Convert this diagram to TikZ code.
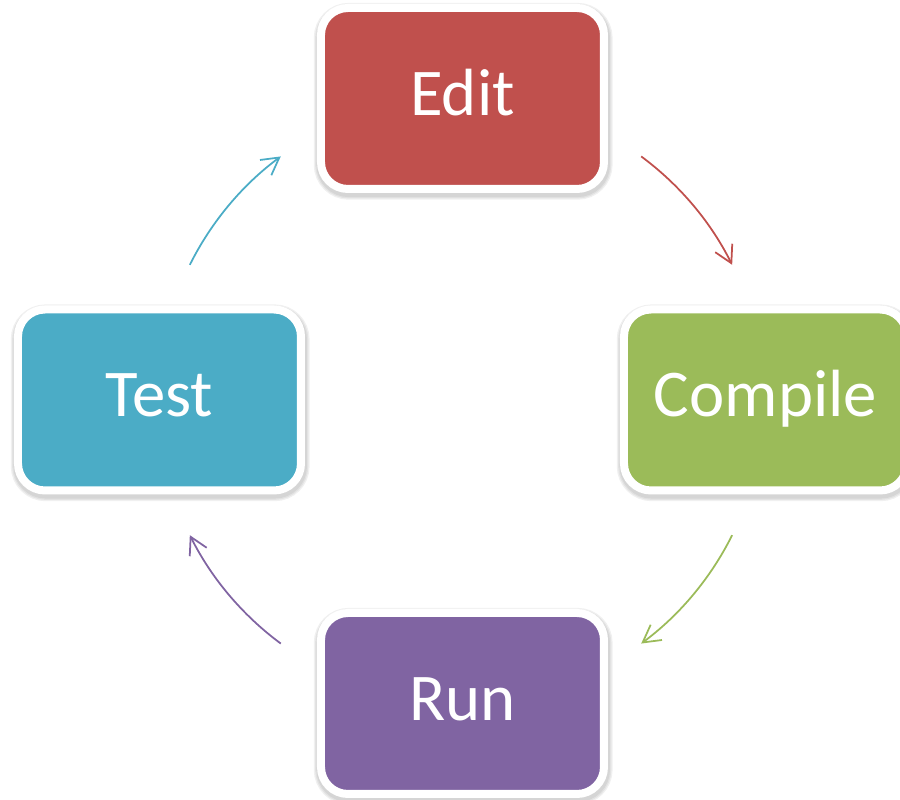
\documentclass[tikz,border=0pt]{standalone}
\usepackage{fontspec}
\setmainfont{Carlito}
\usetikzlibrary{arrows.meta,shadows}
\definecolor{cyEdit}{HTML}{C0504D}
\definecolor{cyComp}{HTML}{9BBB59}
\definecolor{cyRun}{HTML}{8064A2}
\definecolor{cyTest}{HTML}{4BACC6}

\begin{document}
\begin{tikzpicture}[>={Straight Barb[length=3.4mm,width=3.8mm]},
    every node/.style={font=\fontsize{38}{40}\selectfont,text=white},
    halo/.style={general shadow={draw=black,draw opacity=0.06,line width=#1,
      shadow xshift=0.4pt,shadow yshift=-1.6pt}},
    stage/.style={draw=white,line width=0.16cm,rounded corners=0.54cm,
      minimum width=5.66cm,minimum height=3.62cm,text height=1cm,text depth=0.32cm,
      halo=9pt,halo=7.5pt,halo=6pt},
    cyc/.style={->,line width=1pt}]
  \useasboundingbox (-9.22,-8) rectangle (8.78,8);
  % ---- the four stages ----
  \node[stage,fill=cyEdit] (edit)    at (0.03,6.03)  {Edit};
  \node[stage,fill=cyComp] (compile) at (6.09,0)     {Compile};
  \node[stage,fill=cyRun]  (run)     at (0.03,-6.07) {Run};
  \node[stage,fill=cyTest] (test)    at (-6.03,0)    {Test};
  % ---- arcs of the loop, on a circle round the middle ----
  \coordinate (ec) at (53.5:6.06);
  \coordinate (cr) at (-26.5:6.06);
  \coordinate (rt) at (233.5:6.06);
  \coordinate (te) at (153.5:6.06);
  \draw[cyc,cyEdit] (ec) arc[start angle=53.5,end angle=26.5,radius=6.06];
  \draw[cyc,cyComp] (cr) arc[start angle=-26.5,end angle=-53.5,radius=6.06];
  \draw[cyc,cyRun]  (rt) arc[start angle=233.5,end angle=206.5,radius=6.06];
  \draw[cyc,cyTest] (te) arc[start angle=153.5,end angle=126.5,radius=6.06];
\end{tikzpicture}
\end{document}
